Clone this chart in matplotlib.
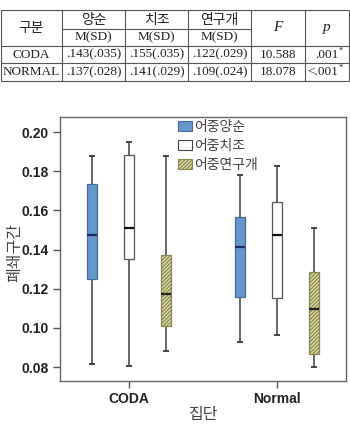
import matplotlib
matplotlib.use("Agg")
import matplotlib.pyplot as plt
from matplotlib.patches import Patch

# ---- data ----
groups = ["CODA", "Normal"]
series = ["어중양순", "어중치조", "어중연구개"]
# (whislo, q1, med, q3, whishi) per group
yangsun = [(0.0817, 0.1251, 0.1473, 0.1735, 0.1880),
           (0.0928, 0.1157, 0.1414, 0.1567, 0.1783)]
chijo = [(0.0807, 0.1351, 0.1509, 0.1885, 0.1948),
         (0.0963, 0.1151, 0.1473, 0.1643, 0.1826)]
yeongugae = [(0.0880, 0.1011, 0.1171, 0.1373, 0.1880),
             (0.0799, 0.0865, 0.1096, 0.1288, 0.1508)]
yticks = [0.08, 0.10, 0.12, 0.14, 0.16, 0.18, 0.20]

table_head1 = ["구분", "양순", "치조", "연구개", "F", "p"]
table_head2 = ["M(SD)", "M(SD)", "M(SD)"]
table_rows = ["CODA", "NORMAL"]
table_means = [[".143(.035)", ".155(.035)", ".122(.029)"],
               [".137(.028)", ".141(.029)", ".109(.024)"]]
table_F = ["10.588", "18.078"]
table_p = [".001", "<.001"]

KR = "Noto Sans CJK KR"
SERIF = "Liberation Serif"
SANS = "Liberation Sans"

W, H = 350, 425
fig = plt.figure(figsize=(W / 100, H / 100), dpi=100)

# ---- table at the top (drawn in pixel coords) ----
tax = fig.add_axes([0, 0, 1, 1])
tax.set_xlim(0, W)
tax.set_ylim(H, 0)
tax.axis("off")
line_kw = dict(color="#555555", lw=0.8)
xs = [1, 62, 125, 188, 251, 305, 349]
tax.hlines([10, 46, 63, 81], xs[0], xs[-1], **line_kw)
tax.hlines(29, xs[1], xs[4], **line_kw)
tax.vlines(xs, 10, 81, **line_kw)
cx = [(xs[i] + xs[i + 1]) / 2 for i in range(6)]
r1, r2, r3, r4 = 19.5, 37.5, 54.5, 72
txt = dict(ha="center", va="center", color="#222222")
for i, lab in enumerate(table_head1):
    if i == 0:
        tax.text(cx[i], 28, lab, family=KR, fontsize=10, **txt)
    elif i < 4:
        tax.text(cx[i], r1, lab, family=KR, fontsize=10, **txt)
    else:
        tax.text(cx[i], 27, lab, family=SERIF, style="italic", fontsize=11, **txt)
for i, lab in enumerate(table_head2):
    tax.text(cx[i + 1], r2, lab, family=SERIF, fontsize=9.5, **txt)
for j, ry in enumerate([r3, r4]):
    tax.text(cx[0], ry, table_rows[j], family=SERIF, fontsize=9.5, **txt)
    for i, v in enumerate(table_means[j]):
        tax.text(cx[i + 1], ry, v, family=SERIF, fontsize=9.5, **txt)
    tax.text(cx[4], ry, table_F[j], family=SERIF, fontsize=9.5, **txt)
    tax.text(cx[5] + 11, ry, table_p[j], family=SERIF, fontsize=9.5,
             ha="right", va="center", color="#222222")
    tax.text(cx[5] + 11.5, ry - 4, "*", family=SERIF, fontsize=6,
             ha="left", va="center", color="#222222")

# ---- box plot ----
ax = fig.add_axes([60 / W, 1 - 381 / H, 286 / W, 264 / H])

colors = ["#6497cb", "#ffffff", "#dedcaa"]
edges = ["#4a6a90", "#555555", "#8a874e"]
hatches = [None, None, "/" * 9]
medcolors = ["#1c2c5a", "#111111", "#222222"]
offsets = [-0.25, 0.0, 0.25]
all_series = [yangsun, chijo, yeongugae]

plt.rcParams["hatch.linewidth"] = 0.9
for k, data in enumerate(all_series):
    stats = []
    for lo, q1, med, q3, hi in data:
        stats.append(dict(whislo=lo, q1=q1, med=med, q3=q3, whishi=hi, fliers=[]))
    pos = [g + offsets[k] for g in range(len(groups))]
    bp = ax.bxp(stats, positions=pos, widths=0.068, patch_artist=True,
                showfliers=False, capwidths=0.03,
                whiskerprops=dict(color="#666666", lw=1.4),
                capprops=dict(color="#444444", lw=1.4),
                medianprops=dict(color=medcolors[k], lw=1.6),
                boxprops=dict(lw=0.9), manage_ticks=False)
    for b in bp["boxes"]:
        b.set_facecolor(colors[k])
        b.set_edgecolor(edges[k])
        if hatches[k]:
            b.set_hatch(hatches[k])
        b.set_zorder(3)
    for m in bp["medians"]:
        m.set_zorder(4)

ax.set_xlim(-0.466, 1.466)
ax.set_ylim(0.0729, 0.2077)
ax.set_xticks(range(len(groups)))
ax.set_xticklabels(groups, family=SANS, fontsize=10, fontweight="bold", color="#222222")
ax.set_yticks(yticks)
ax.set_yticklabels(["%.2f" % t for t in yticks], family=SANS, fontsize=10,
                   fontweight="bold", color="#222222")
ax.tick_params(axis="both", length=5, width=1, color="#555555", pad=3)
for s in ax.spines.values():
    s.set_color("#666666")
    s.set_linewidth(1)

handles = [Patch(facecolor=colors[k], edgecolor=edges[k] if k != 1 else "#444444",
                 hatch=hatches[k], lw=0.8) for k in range(3)]
fig.legend(handles, series, loc="upper left", bbox_to_anchor=(178 / W, 1 - 120 / H),
           frameon=False, prop=dict(family=KR, size=10), handlelength=1.0,
           handleheight=0.8, handletextpad=0.15, labelspacing=0.35, borderpad=0,
           borderaxespad=0, labelcolor="#444444")

fig.text(15 / W, 1 - 252 / H, "폐쇄구간", family=KR, fontsize=11.5, rotation=90,
         ha="center", va="center", color="#444444")
fig.text(203 / W, 1 - 415 / H, "집단", family=KR, fontsize=11.5,
         ha="center", va="center", color="#444444")

fig.savefig("out.png", dpi=100)
